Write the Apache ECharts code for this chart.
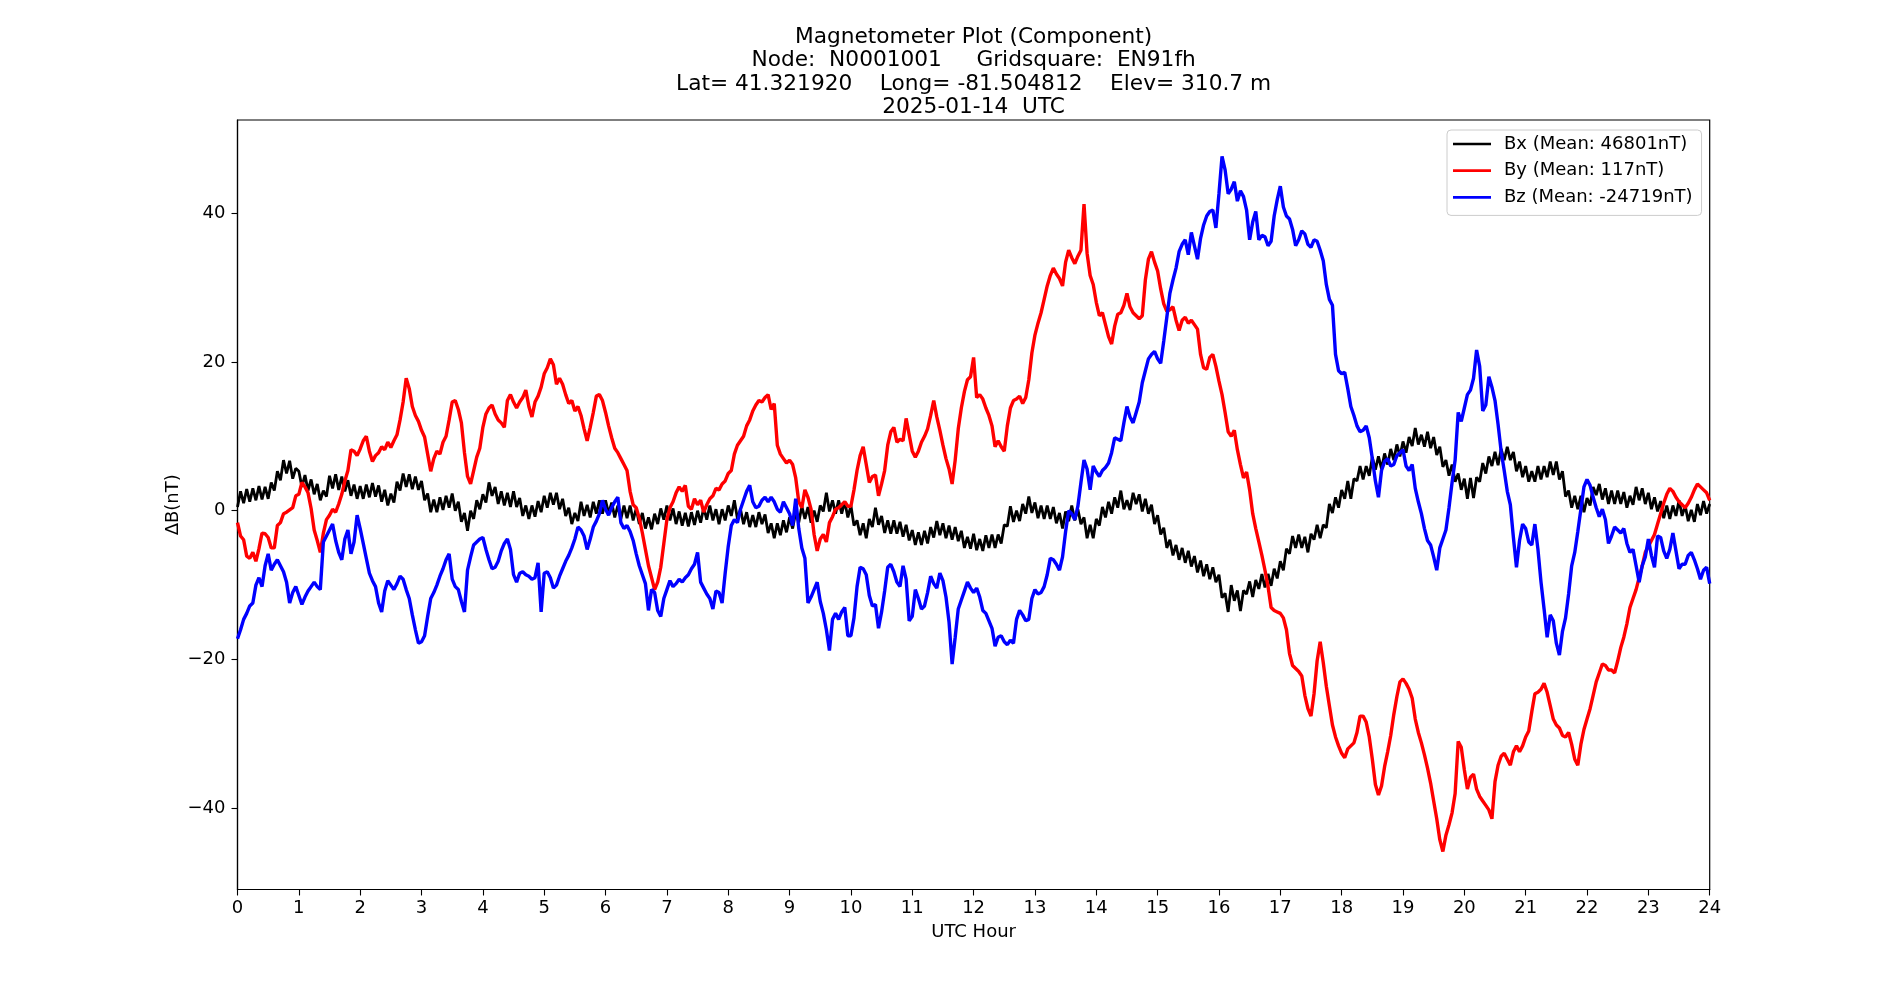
<!DOCTYPE html>
<html>
<head>
<meta charset="utf-8">
<title>Magnetometer Plot (Component)</title>
<script src="https://cdn.jsdelivr.net/npm/echarts@6/dist/echarts.min.js"></script>
<style>
  html, body { margin: 0; padding: 0; background: #fff; }
  #chart { width: 1900px; height: 1000px; }
</style>
</head>
<body>
<div id="chart"></div>
<script>
// one sample every 0.05 h (3 min), 00:00 .. 24:00 UTC
const SAMPLE_STEP_H = 0.05;

const titleLines = [
  'Magnetometer Plot (Component)',
  'Node:  N0001001     Gridsquare:  EN91fh',
  'Lat= 41.321920    Long= -81.504812    Elev= 310.7 m',
  '2025-01-14  UTC'
];
const seriesNames = ['Bx (Mean: 46801nT)', 'By (Mean: 117nT)', 'Bz (Mean: -24719nT)'];
const yTicks = [-40, -20, 0, 20, 40];

// delta B (nT) from the daily mean, one row per hour
const bxDelta = [
  0.5,2.6,1.0,2.9,1.2,3.0,1.4,3.3,1.5,3.2,1.6,3.8,2.7,5.3,4.1,6.8,5.0,6.7,4.3,5.7,
  5.3,3.2,4.8,2.7,4.2,2.2,3.6,1.4,2.7,1.9,4.7,3.0,4.9,2.8,4.6,2.6,4.1,2.0,3.5,1.6,
  3.3,1.6,3.5,1.8,3.7,1.9,3.4,1.2,2.8,0.7,2.3,1.1,3.9,2.7,5.0,3.2,4.9,2.9,4.6,2.8,
  4.0,1.4,2.3,-0.2,1.5,-0.2,1.8,0.1,2.0,0.4,2.3,0.0,1.2,-1.5,-0.3,-2.7,0.0,-1.1,1.4,0.2,
  2.2,1.1,3.8,2.0,3.2,0.9,2.6,0.7,2.4,0.5,2.6,0.5,1.7,-0.7,0.7,-1.1,0.7,-0.8,1.3,-0.2,
  2.0,0.4,2.4,0.8,2.4,0.2,1.6,-0.7,0.4,-1.8,-0.3,-1.4,1.2,-0.7,0.8,-0.9,1.2,-0.4,1.4,-0.4,
  1.4,-0.4,1.1,-0.9,0.7,-1.1,0.7,-1.0,0.7,-1.3,0.3,-1.8,-0.3,-2.4,-0.9,-2.5,-0.4,-1.8,0.3,-1.2,
  0.7,-1.3,0.3,-1.8,-0.1,-2.0,-0.3,-2.1,-0.2,-1.9,0.0,-1.6,0.4,-1.2,0.7,-1.3,0.2,-1.8,0.2,-1.3,
  0.7,-0.7,1.4,-1.1,0.2,-1.8,-0.2,-2.2,-0.6,-2.2,-0.2,-1.8,-0.5,-3.0,-1.7,-3.7,-1.7,-3.3,-1.3,-2.9,
  -0.9,-2.4,-0.2,-1.6,0.6,-1.1,0.5,-1.6,0.0,-1.5,0.7,-0.1,2.4,-0.1,1.4,-0.4,1.4,-0.4,1.2,-0.9,
  0.7,-2.0,-1.3,-3.3,-1.7,-3.7,-1.1,-2.2,0.4,-1.9,-0.7,-3.0,-1.3,-3.1,-1.3,-3.1,-1.5,-3.5,-1.9,-4.0,
  -2.6,-4.6,-2.9,-4.6,-2.7,-4.4,-2.2,-3.6,-1.4,-3.3,-1.7,-3.7,-2.0,-3.9,-2.2,-4.1,-2.7,-5.0,-3.5,-5.1,
  -3.1,-5.3,-3.8,-5.4,-3.3,-5.0,-3.2,-5.0,-3.2,-4.4,-1.9,-2.1,0.6,-1.5,0.0,-1.4,0.9,-0.4,1.9,-0.3,
  1.1,-1.0,0.7,-1.1,0.7,-1.1,0.5,-1.7,-0.3,-2.4,-0.1,-1.4,0.7,-1.3,0.2,-1.8,-0.9,-3.7,-1.9,-3.7,
  -1.1,-2.0,0.5,-0.9,1.2,-0.4,1.8,0.4,2.7,0.2,1.4,0.1,2.4,0.9,2.2,-0.1,1.6,-0.4,0.8,-1.8,
  -0.6,-3.2,-2.3,-5.0,-3.9,-6.0,-4.6,-6.6,-5.0,-7.0,-5.4,-7.5,-6.1,-8.3,-6.7,-8.8,-7.2,-9.2,-7.6,-9.6,
  -8.6,-11.7,-11.1,-13.6,-10.0,-12.1,-10.7,-13.5,-10.7,-11.2,-9.5,-11.6,-9.3,-10.5,-8.5,-10.3,-8.5,-10.1,-7.8,-9.1,
  -6.8,-8.0,-5.1,-5.8,-3.4,-5.0,-3.2,-5.0,-3.5,-5.6,-3.1,-3.9,-1.9,-3.7,-1.9,-2.3,0.9,-0.3,1.8,0.4,
  2.8,1.6,4.0,1.6,4.3,4.0,6.0,4.2,6.0,4.7,7.2,5.5,7.3,5.6,7.7,6.2,8.3,6.8,8.9,7.3,
  9.3,7.8,9.9,8.7,11.1,8.9,10.2,8.6,10.6,8.4,9.9,7.5,8.6,5.9,6.8,4.7,6.2,3.9,5.0,2.8,
  4.3,1.6,4.4,1.7,4.5,3.9,6.4,5.0,7.3,6.0,7.9,6.1,8.3,6.8,8.6,6.8,7.9,5.3,6.6,4.5,
  6.0,3.9,5.3,3.9,6.0,4.2,6.0,4.5,6.6,4.8,6.6,4.2,5.3,1.9,2.7,0.4,2.0,0.2,2.0,-0.2,
  1.7,0.7,3.2,2.1,3.6,1.5,3.0,0.9,2.7,0.9,2.7,0.9,2.5,0.4,2.0,0.8,3.2,1.4,3.0,0.9,
  2.4,0.2,1.8,-0.1,1.3,-1.0,0.7,-1.1,0.7,-0.7,1.4,-0.7,0.7,-1.4,0.1,-1.5,0.9,-0.6,1.3,-0.4,0.9
];

const byDelta = [
  -1.6,-3.4,-3.9,-6.1,-6.4,-5.6,-6.8,-5.1,-3.0,-3.1,-3.6,-5.0,-5.0,-2.0,-1.6,-0.4,-0.2,0.1,0.4,2.0,
  2.2,3.8,3.2,2.4,0.3,-2.6,-4.0,-5.6,-3.0,-1.2,-0.6,0.2,-0.2,0.9,2.2,4.0,5.4,8.2,8.0,7.4,
  8.3,9.4,10.0,8.0,6.6,7.4,7.8,8.6,8.2,9.2,8.5,9.4,10.2,12.2,14.6,17.8,16.4,14.0,12.8,12.0,
  10.8,9.9,7.6,5.3,7.0,8.0,7.6,9.2,10.0,12.2,14.6,14.8,13.6,11.8,7.8,4.6,3.6,5.4,7.2,8.4,
  11.2,13.0,13.8,14.2,13.0,12.2,11.8,11.2,14.8,15.6,14.6,13.8,14.6,15.2,16.2,14.0,12.6,14.6,15.4,16.6,
  18.4,19.2,20.4,19.6,17.0,17.8,17.0,15.6,14.4,14.8,13.4,14.0,12.8,11.0,9.4,11.2,13.2,15.4,15.6,14.8,
  13.2,11.4,9.8,8.4,7.8,7.0,6.2,5.4,2.6,0.8,0.4,-1.0,-3.0,-5.2,-7.4,-9.0,-10.6,-9.6,-7.6,-4.4,
  -1.2,0.4,1.2,2.4,3.2,2.6,3.4,0.6,0.2,1.6,0.8,1.4,-0.2,0.8,1.6,2.0,3.0,2.8,3.6,4.0,
  5.0,5.4,7.6,8.8,9.4,10.0,11.4,12.2,13.4,14.2,14.8,14.6,15.2,15.6,13.6,14.4,8.8,7.6,7.0,6.4,
  6.8,6.2,4.4,1.2,0.4,2.8,1.8,0.2,-3.2,-5.4,-3.8,-3.2,-4.2,-1.6,-0.8,0.2,0.4,0.8,1.2,0.6,
  0.6,2.8,5.4,7.4,8.6,6.2,3.8,4.6,4.8,2.0,3.6,5.4,8.8,10.6,11.2,9.2,9.6,9.4,12.4,10.2,
  8.0,7.2,8.0,9.2,10.0,11.0,12.8,14.8,12.6,10.8,8.8,7.0,5.6,3.6,6.8,11.0,13.8,16.0,17.6,18.0,
  20.6,15.2,15.6,15.0,13.8,12.8,11.4,8.6,9.4,8.6,8.0,11.4,13.8,14.8,15.0,15.4,14.4,15.2,17.6,21.2,
  23.6,25.2,26.6,28.4,30.2,31.6,32.6,31.8,31.2,30.2,33.4,35.0,34.0,33.2,34.2,35.0,41.2,34.6,31.6,30.4,
  28.0,26.2,26.6,25.0,23.4,22.4,24.8,26.4,26.6,27.6,29.2,27.4,26.6,26.2,25.8,26.2,31.0,33.8,34.8,33.4,
  32.2,29.8,27.8,26.8,27.0,27.4,25.6,24.2,25.6,26.0,25.2,25.6,25.0,24.4,21.0,19.2,19.0,20.6,21.0,19.4,
  17.4,15.6,13.2,10.6,10.0,10.8,8.2,6.2,4.4,5.2,2.8,-0.4,-2.4,-4.2,-6.0,-8.0,-10.2,-13.0,-13.4,-13.6,
  -13.8,-14.4,-16.0,-19.2,-20.8,-21.2,-21.6,-22.2,-24.8,-26.6,-27.6,-24.6,-20.2,-17.6,-20.4,-23.6,-26.2,-28.8,-30.4,-31.6,
  -32.6,-33.2,-32.0,-31.6,-31.2,-29.8,-27.6,-27.6,-28.4,-30.4,-33.4,-36.8,-38.2,-37.0,-34.4,-32.4,-30.2,-27.4,-25.0,-23.0,
  -22.6,-23.2,-24.0,-25.2,-28.0,-29.8,-31.2,-32.8,-34.6,-36.6,-39.0,-41.4,-44.2,-45.8,-43.6,-42.2,-40.6,-38.0,-31.0,-31.8,
  -34.8,-37.4,-35.8,-35.4,-37.4,-38.4,-39.0,-39.6,-40.2,-41.4,-36.4,-34.2,-33.0,-32.6,-33.4,-34.2,-32.4,-31.6,-32.4,-31.6,
  -30.4,-29.6,-27.0,-24.6,-24.4,-24.0,-23.2,-24.4,-26.2,-28.0,-28.8,-29.2,-30.2,-30.4,-29.8,-31.4,-33.4,-34.2,-31.4,-29.4,
  -28.0,-26.6,-24.8,-23.0,-21.8,-20.6,-20.8,-21.4,-21.4,-21.8,-20.2,-18.4,-17.0,-15.2,-13.0,-11.8,-10.6,-9.0,-7.4,-5.6,
  -4.8,-4.0,-3.2,-1.8,-0.4,1.0,2.2,3.0,2.6,1.8,1.2,0.8,0.4,1.0,1.8,2.8,3.6,3.2,2.8,2.4,1.4
];

const bzDelta = [
  -17.2,-16.0,-14.6,-13.8,-12.8,-12.4,-10.0,-9.0,-10.2,-7.4,-5.8,-8.0,-7.2,-6.6,-7.4,-8.2,-9.6,-12.4,-11.0,-10.2,
  -11.4,-12.6,-11.6,-10.8,-10.2,-9.6,-10.2,-10.6,-4.2,-3.4,-2.6,-1.8,-4.0,-5.6,-6.6,-3.8,-2.6,-5.8,-4.2,-0.6,
  -2.4,-4.4,-6.4,-8.4,-9.4,-10.2,-12.4,-13.6,-10.8,-9.4,-10.0,-10.6,-9.8,-8.8,-9.2,-10.6,-11.8,-14.0,-16.0,-17.8,
  -17.6,-16.8,-14.2,-11.8,-11.0,-10.0,-8.8,-7.8,-6.6,-5.8,-9.2,-10.2,-10.6,-12.2,-13.6,-8.0,-6.2,-4.6,-4.2,-3.8,
  -3.6,-5.2,-6.6,-7.8,-7.6,-6.8,-5.4,-4.4,-3.8,-5.2,-8.6,-9.6,-8.4,-8.2,-8.6,-8.8,-9.2,-9.0,-7.0,-13.6,
  -8.4,-8.2,-9.0,-10.4,-10.0,-8.8,-7.8,-6.8,-6.0,-5.0,-3.8,-2.2,-2.6,-3.4,-5.2,-3.8,-2.2,-1.4,-0.4,1.4,
  0.2,-0.6,0.4,1.2,1.8,-1.6,-2.4,-2.0,-2.8,-4.0,-5.8,-7.4,-8.6,-9.8,-13.4,-10.6,-11.0,-13.4,-14.2,-11.8,
  -10.6,-9.4,-10.2,-9.8,-9.2,-9.6,-9.0,-8.6,-7.8,-7.2,-5.6,-9.6,-10.4,-11.2,-11.8,-13.2,-10.8,-11.0,-12.4,-8.4,
  -4.8,-2.0,-1.2,-1.6,0.2,1.4,2.6,3.4,1.2,0.4,0.6,1.4,1.8,1.2,1.8,1.2,0.2,-0.2,1.2,0.4,
  -0.4,-2.0,1.6,-2.4,-5.0,-6.4,-12.4,-11.6,-10.6,-9.6,-12.2,-13.8,-16.0,-18.8,-14.6,-13.8,-14.6,-13.6,-13.0,-16.8,
  -16.8,-14.4,-10.2,-7.6,-7.8,-8.6,-11.4,-12.8,-12.6,-15.8,-13.6,-10.8,-7.6,-7.2,-8.2,-9.6,-10.2,-7.4,-9.2,-14.8,
  -14.2,-10.6,-11.8,-13.2,-12.8,-11.0,-8.8,-9.8,-10.4,-8.4,-9.4,-11.6,-15.0,-20.6,-17.0,-13.2,-12.0,-10.8,-9.6,-10.4,
  -11.0,-10.4,-11.6,-13.4,-13.8,-14.8,-15.8,-18.2,-17.0,-16.8,-17.6,-18.0,-17.4,-17.8,-14.6,-13.4,-14.0,-14.8,-14.6,-11.8,
  -10.6,-11.2,-11.0,-10.2,-8.6,-6.4,-6.6,-7.2,-8.0,-6.2,-2.8,0.0,-0.4,-1.2,0.6,3.8,6.8,5.6,2.8,6.0,
  5.2,4.6,5.4,5.8,6.4,7.8,9.8,9.6,9.4,11.8,14.0,12.6,11.8,13.2,14.6,17.2,18.8,20.4,21.0,21.4,
  20.4,19.8,22.8,26.0,29.2,31.0,32.6,34.8,35.8,36.4,34.4,37.4,35.6,33.8,36.6,38.4,39.6,40.2,40.4,38.0,
  42.6,47.6,45.8,42.6,43.2,44.2,41.6,43.0,42.2,40.4,36.4,38.8,40.2,36.4,37.0,36.8,35.6,36.2,39.6,41.8,
  43.6,40.8,39.6,39.2,37.8,35.6,36.4,37.6,37.2,35.8,35.4,36.4,36.2,35.0,33.6,30.4,28.4,27.6,21.0,18.8,
  18.4,18.6,16.4,14.0,12.8,11.4,10.6,10.8,11.4,9.8,7.0,4.0,1.8,5.4,6.6,7.0,6.0,6.2,7.4,7.8,
  8.2,6.0,5.4,6.2,3.0,1.2,-0.4,-2.4,-4.0,-4.6,-6.2,-8.0,-5.0,-3.8,-2.6,0.4,3.8,6.8,13.2,12.0,
  13.8,15.6,16.2,17.8,21.6,19.4,13.4,14.2,18.0,16.6,14.8,11.6,8.0,5.4,2.6,0.8,-3.6,-7.6,-4.0,-1.8,
  -2.4,-4.2,-4.6,-1.8,-5.2,-9.6,-13.2,-17.0,-14.0,-14.8,-17.8,-19.4,-16.2,-14.4,-11.2,-7.4,-5.6,-2.8,0.2,3.2,
  4.2,3.4,1.8,0.4,-0.8,0.2,-1.2,-4.4,-3.4,-2.2,-2.6,-3.0,-2.4,-4.4,-5.6,-5.2,-7.4,-9.6,-7.4,-6.2,
  -3.8,-6.0,-7.6,-3.4,-3.6,-5.4,-6.4,-5.2,-3.0,-5.4,-7.8,-7.2,-7.2,-6.0,-5.6,-6.6,-7.8,-9.2,-8.0,-7.6,-9.8
];

const FONT = 'DejaVu Sans';
const minus = v => String(v).replace('-', '\u2212');

function toPairs(vals) {
  return vals.map((v, i) => [+(i * SAMPLE_STEP_H).toFixed(2), v]);
}

const chart = echarts.init(document.getElementById('chart'), null, { renderer: 'canvas' });

const colors = ['#000000', '#ff0000', '#0000ff'];
// the noisy 1-s traces look thicker than a plain 1.5pt line
const widths = [2.8, 3.4, 3.4];
const allData = [bxDelta, byDelta, bzDelta];

chart.setOption({
  backgroundColor: '#ffffff',
  animation: false,
  title: {
    text: titleLines.join('\n'),
    left: 973.6,
    top: 26,
    textAlign: 'center',
    padding: 0,
    textStyle: {
      fontFamily: FONT,
      fontSize: 21.7,
      fontWeight: 'normal',
      color: '#000',
      lineHeight: 23.2
    }
  },
  legend: {
    orient: 'vertical',
    left: 1447,
    top: 130,
    padding: [5, 9, 9, 6],
    itemGap: 8.7,
    itemWidth: 38,
    itemHeight: 18,
    icon: 'path://M0,0H38V2.7H0Z',
    symbolKeepAspect: true,
    backgroundColor: '#fff',
    borderColor: '#cccccc',
    borderWidth: 1,
    borderRadius: 4,
    textStyle: { fontFamily: FONT, fontSize: 18, color: '#000', padding: [0, 0, 0, 8] },
    data: seriesNames
  },
  // y-axis title, placed like matplotlib's ylabel (v6 axis names get pushed off by the tick labels)
  graphic: [{
    type: 'text',
    x: 173.3,
    y: 504.8,
    rotation: Math.PI / 2,
    style: {
      text: '\u0394B(nT)',
      font: '18px "DejaVu Sans"',
      fill: '#000',
      align: 'center',
      verticalAlign: 'middle'
    }
  }],
  grid: {
    left: 237.5,
    right: 190.3,
    top: 120,
    bottom: 110.5,
    show: true,
    borderColor: '#000',
    borderWidth: 1.2,
    containLabel: false,
    outerBoundsMode: 'none'
  },
  xAxis: {
    type: 'value',
    min: 0,
    max: 24,
    interval: 1,
    name: 'UTC Hour',
    nameLocation: 'middle',
    nameGap: 34,
    nameTextStyle: { fontFamily: FONT, fontSize: 18, color: '#000' },
    axisLine: { show: true, onZero: false, lineStyle: { color: '#000', width: 1.2 } },
    axisTick: { show: true, length: 6, lineStyle: { color: '#000', width: 1.1 } },
    axisLabel: { fontFamily: FONT, fontSize: 18, color: '#000', margin: 10, showMinLabel: true, showMaxLabel: true },
    splitLine: { show: false }
  },
  yAxis: {
    type: 'value',
    min: -50.9,
    max: 52.5,
    axisLine: { show: true, onZero: false, lineStyle: { color: '#000', width: 1.2 } },
    axisTick: { show: true, length: 6, customValues: yTicks, lineStyle: { color: '#000', width: 1.1 } },
    axisLabel: { fontFamily: FONT, fontSize: 18, color: '#000', margin: 12, customValues: yTicks, formatter: minus },
    splitLine: { show: false }
  },
  series: allData.map((vals, k) => ({
    name: seriesNames[k],
    type: 'line',
    data: toPairs(vals),
    symbol: 'none',
    showSymbol: false,
    smooth: false,
    lineStyle: { color: colors[k], width: widths[k] },
    itemStyle: { color: colors[k] },
    emphasis: { disabled: true }
  }))
});
</script>
</body>
</html>
